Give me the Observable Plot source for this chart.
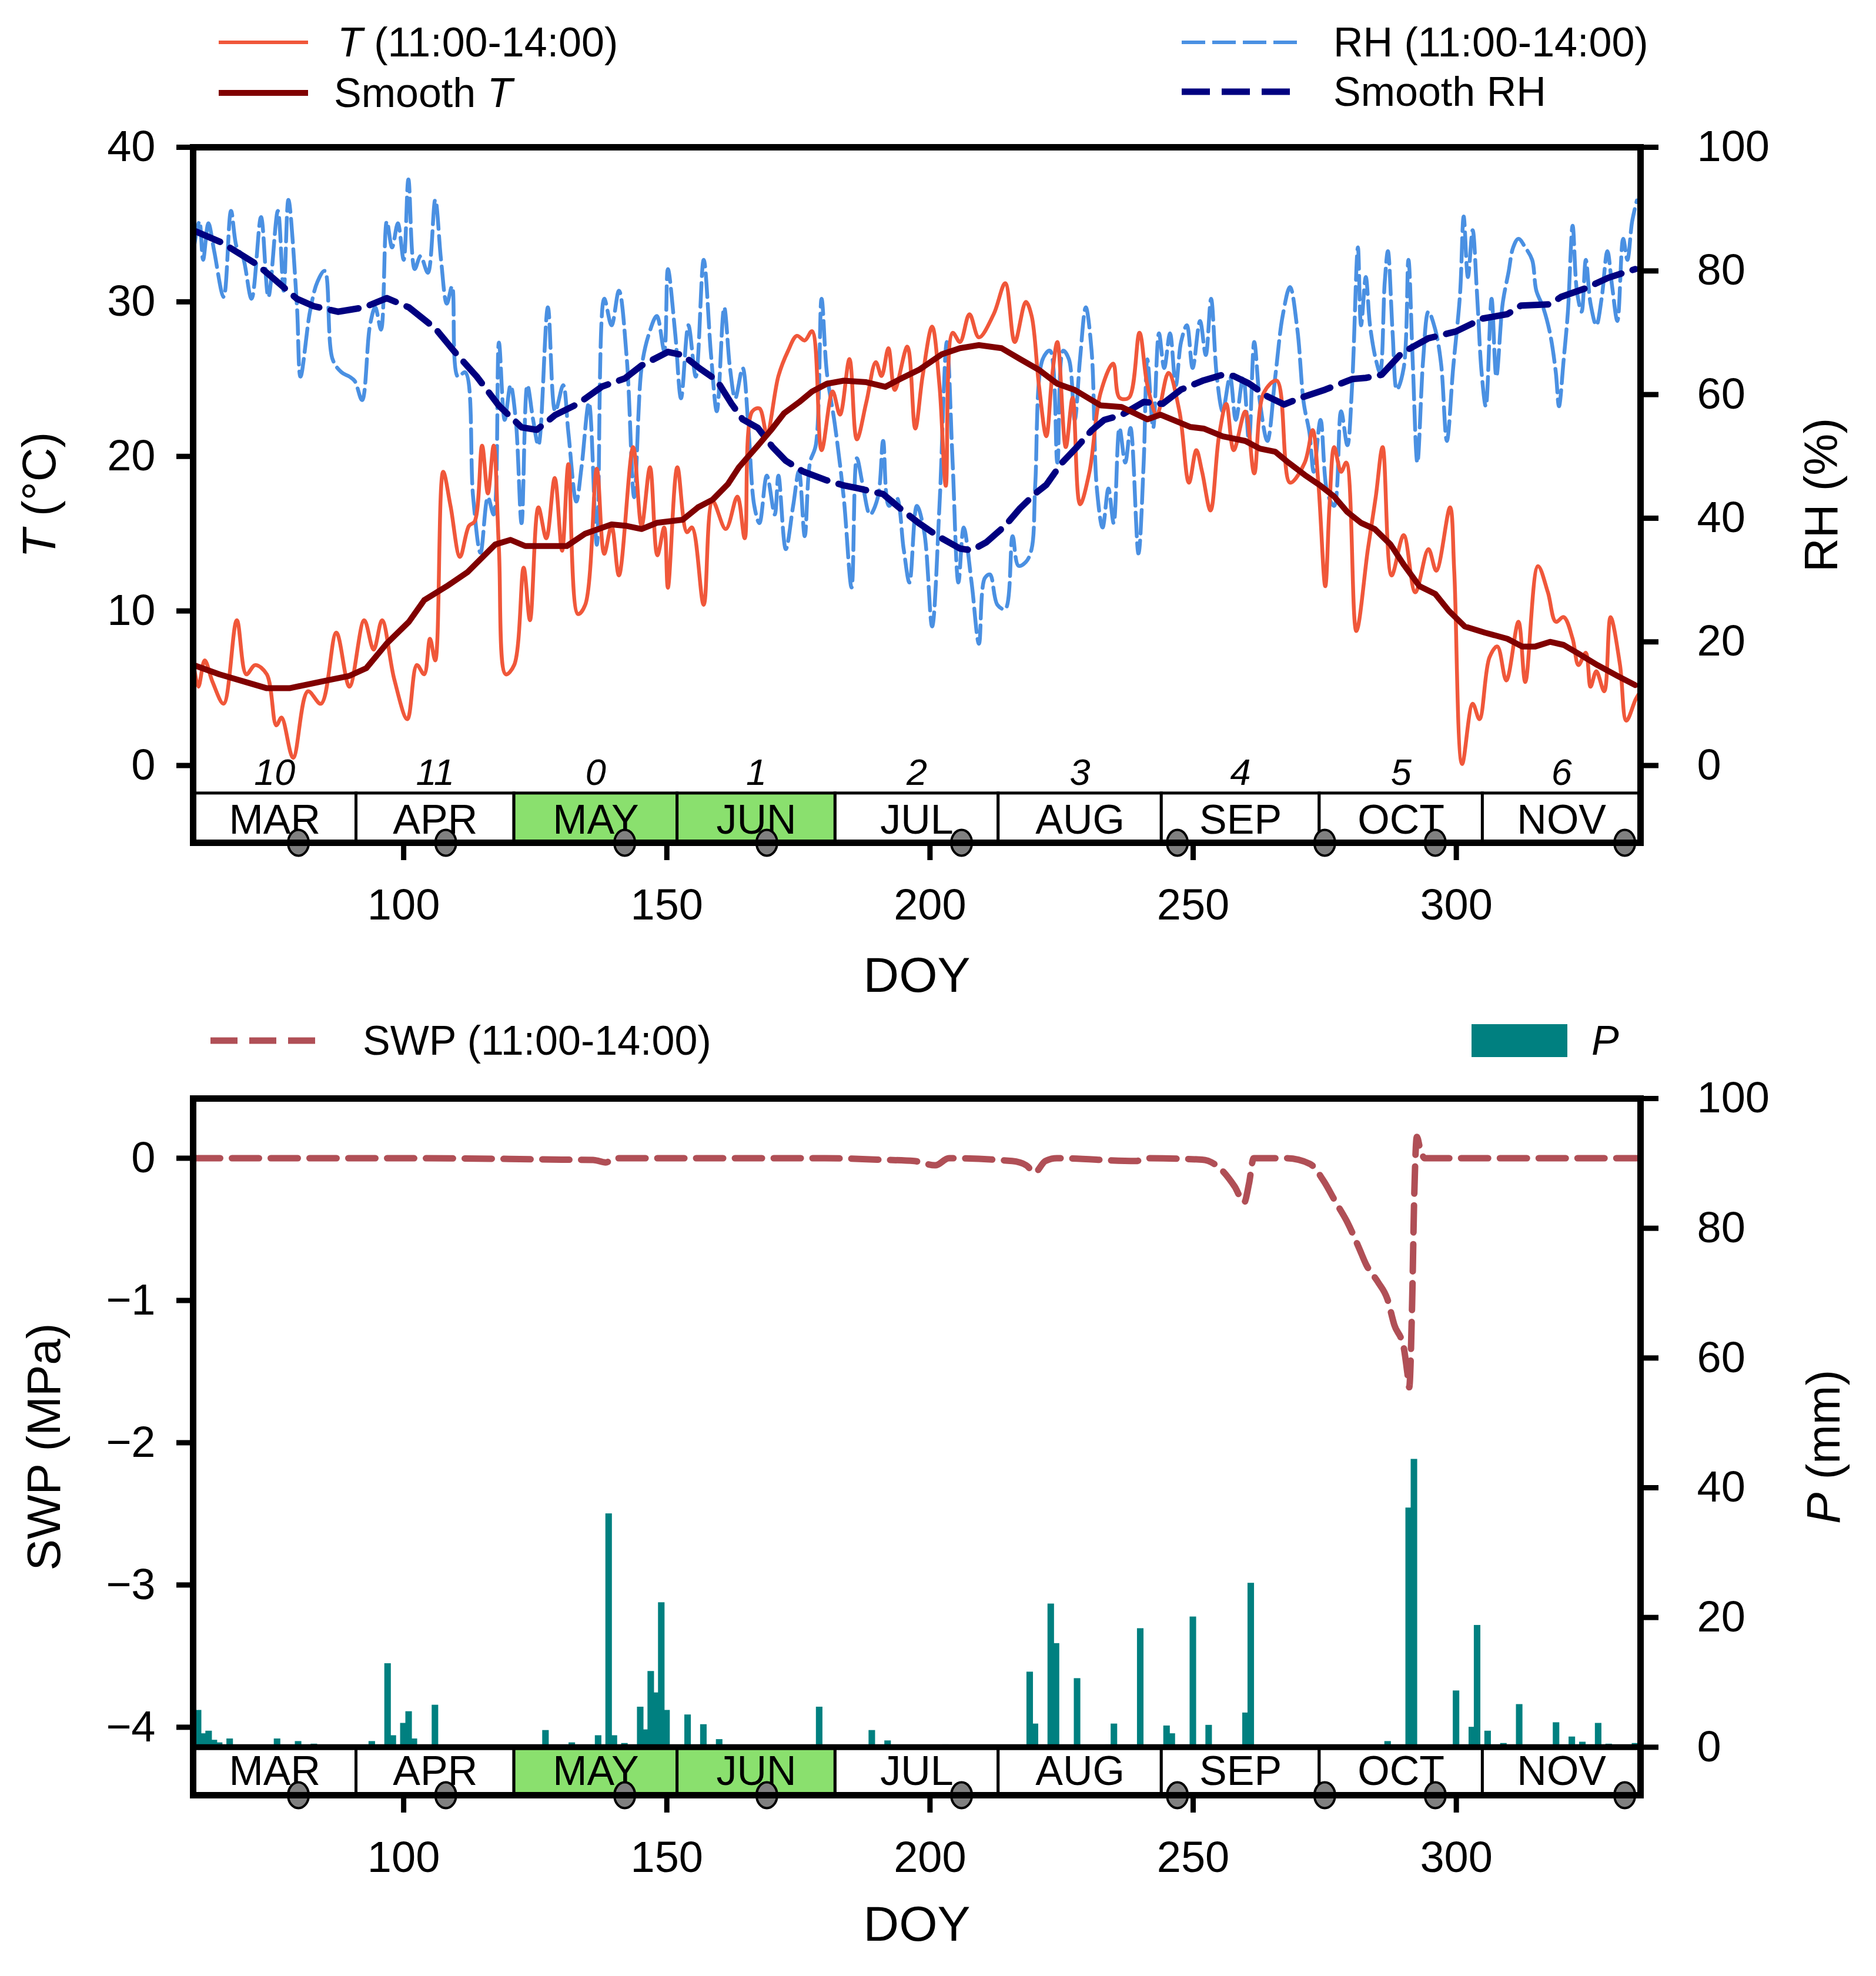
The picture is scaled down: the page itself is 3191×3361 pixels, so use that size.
<!DOCTYPE html>
<html>
<head>
<meta charset="utf-8">
<script src="https://cdn.jsdelivr.net/npm/d3@7"></script>
<script src="https://cdn.jsdelivr.net/npm/@observablehq/plot@0.6"></script>
<style>
  body { margin: 0; background: #fff; font-family: "Liberation Sans", Arial, Helvetica, sans-serif; }
  #page { position: relative; width: 3191px; height: 3361px; overflow: hidden; }
  .panel { position: absolute; left: 0; }
  .key { position: absolute; display: flex; align-items: center; transform: translateY(-50%);
         font-size: 70px; line-height: 1; white-space: nowrap; color: #000; }
  .key svg { display: block; }
</style>
</head>
<body>
<div id="page"></div>
<script>
"use strict";

// ---- data ----
const monthNames  = ["MAR", "APR", "MAY", "JUN", "JUL", "AUG", "SEP", "OCT", "NOV"];
const monthStart  = [60, 91, 121, 152, 182, 213, 244, 274, 305];
const monthEnd    = [91, 121, 152, 182, 213, 244, 274, 305, 335];
const monthCodes  = ["10", "11", "0", "1", "2", "3", "4", "5", "6"];
const greenMonths = ["MAY", "JUN"];
const markerDoy   = [80, 108, 142, 169, 206, 247, 275, 296, 332];

const doyTicks = [100, 150, 200, 250, 300];
const tTicks   = [0, 10, 20, 30, 40];
const rhTicks  = [0, 20, 40, 60, 80, 100];
const swpTicks = [0, -1, -2, -3, -4];
const pTicks   = [0, 20, 40, 60, 80, 100];

// T (11:00-14:00), [DOY, °C]
const tRaw = [
  [60,6.8],[61,5.1],[62.2,6.8],[63.7,5.4],[65.8,4.0],[68.3,9.4],[70.1,5.9],[71.8,6.5],[74,5.9],[75.8,2.6],
  [76.8,3.1],[79,0.5],[81.8,4.8],[84.3,4.0],[87.2,8.6],[89.7,5.1],[92.5,9.4],[94.3,7.5],[95.9,9.4],[98.2,5.6],
  [100.7,3.0],[102.5,6.5],[103.9,5.9],[105,8.2],[106,6.8],[107.5,19.0],[108.9,16.8],[110.7,13.5],[112.4,15.5],[113.5,15.8],
  [114.9,20.7],[116,17.6],[117.1,20.7],[118.1,14.0],[119.4,5.9],[121,6.5],[122.8,12.8],[124,9.4],[125.6,16.7],[127.1,14.7],
  [128.7,18.6],[130.1,13.9],[131.3,19.5],[133.1,9.8],[134.5,10.4],[136.7,19.2],[138.1,13.7],[139.5,15.5],[140.9,12.3],[143.6,20.6],
  [145.2,15.5],[146.8,19.3],[148.2,13.6],[149.5,15.4],[150.2,11.5],[152,19.3],[153.8,15.1],[154.8,15.4],[157,10.4],[158.7,17.1],
  [161.2,15.3],[163.4,17.4],[164.8,14.7],[166.2,22.9],[167.6,23.1],[169,21.5],[171.2,25.2],[173,26.8],[174.7,27.8],[176.2,27.5],
  [177.6,28.1],[179.4,20.4],[181.5,24.2],[182.9,22.7],[184.7,26.3],[186.1,21.1],[187.9,23.5],[189.7,26.1],[190.8,25.2],[192.1,27.0],
  [193.3,24.3],[195.7,27.1],[197.2,21.8],[198.6,25.2],[200.4,28.4],[201.8,24.6],[203,18.1],[204.3,28.0],[205.7,27.4],[207.5,29.2],
  [209.3,27.7],[212.1,29.2],[214.3,31.2],[216.1,27.4],[218.2,30.0],[219.3,29.1],[220.7,24.6],[222.1,21.3],[223.2,25.2],[224.2,27.4],
  [225.8,20.6],[227.1,23.8],[228.5,16.9],[230.3,19.0],[232.4,24.1],[234.8,26.0],[236,23.8],[237.8,23.8],[239.8,28.0],[241.3,24.6],
  [243.1,22.7],[245.3,25.4],[247.4,22.9],[249.2,18.3],[250.6,20.4],[251.7,19.0],[253.3,16.5],[254.9,21.3],[256.3,23.4],[257.7,20.4],
  [259.9,22.9],[261.6,18.9],[263.4,24.1],[265.9,24.9],[268.4,18.3],[271.2,19.6],[272.7,21.7],[273.8,18.2],[275.1,11.6],[275.9,16.8],
  [276.8,20.6],[278.1,19.0],[279.1,19.6],[281,8.7],[283.2,14.0],[284.7,17.4],[286,20.6],[287.7,12.3],[290,14.9],[292.2,11.2],
  [294.7,14.0],[296.2,12.6],[298.8,16.7],[299.6,12.6],[301.1,0.1],[303.1,4.0],[304.4,3.0],[306.3,7.0],[307.8,7.7],[309.5,5.5],
  [311.8,9.3],[313.1,5.4],[315.5,12.9],[317.4,11.2],[318.9,9.3],[320.4,9.6],[322.1,8.2],[323.2,6.5],[324.6,7.3],[325.5,5.1],
  [326.6,6.1],[328.1,4.8],[329.3,9.6],[331.1,6.5],[332.3,2.9],[334.1,4.3],[335,4.8]
];

// Smooth T, [DOY, °C]
const tSmooth = [
  [60.1,6.5],[65,5.9],[70,5.4],[74,5.0],[78.3,5.0],[85.4,5.5],[89.7,5.8],[92.9,6.3],[96.8,7.9],[101,9.3],
  [103.9,10.7],[108.2,11.6],[112.1,12.5],[117.4,14.3],[120.3,14.6],[123.1,14.2],[131,14.2],[134.5,15.0],[139.5,15.6],[142.4,15.5],
  [145.2,15.3],[148.1,15.7],[153,15.9],[155.9,16.7],[158.7,17.2],[161.6,18.2],[163.7,19.3],[167.3,20.7],[169.8,21.7],[172.3,22.8],
  [175.1,23.5],[177.6,24.2],[180.4,24.7],[183.6,24.9],[187.9,24.8],[191.5,24.5],[194.3,25.0],[197.9,25.6],[202.2,26.6],[205.7,27.0],
  [209.3,27.2],[213.6,27.0],[217.1,26.3],[220.7,25.6],[224.2,24.7],[227.5,24.3],[232.4,23.3],[236.4,23.2],[241.3,22.4],[243.8,22.7],
  [249.5,21.9],[252,21.8],[255.6,21.3],[259.9,21.0],[262.7,20.5],[265.6,20.3],[268.1,19.6],[271.2,18.8],[274.2,18.1],[276.8,17.4],
  [279.3,16.4],[281.9,15.7],[284.5,15.3],[287.5,14.3],[290,13.0],[293,11.6],[296,11.1],[298.6,10.0],[301.6,9.0],[305.4,8.6],
  [309.7,8.2],[312.5,7.7],[315,7.7],[317.8,8.0],[320.4,7.8],[323.4,7.2],[326.8,6.5],[330.6,5.8],[334,5.2]
];

// RH (11:00-14:00), [DOY, %]
const rhRaw = [
  [60.2,84],[61.2,88],[61.9,81.8],[62.9,87.7],[64,83.2],[65.8,75.8],[67.2,89.7],[68.3,83.8],[69.4,82.4],[71.1,75.5],
  [72.9,88.7],[74.3,75.8],[76.1,89.7],[77.2,76.8],[78.1,91.5],[79.7,74.7],[80.4,62.9],[82.2,73.4],[83.6,78.2],[85,80.0],
  [86.5,65.7],[88.2,63.6],[89.7,62.9],[90.7,62.2],[92.1,59.1],[93.6,71.2],[94.6,74.1],[95.7,70.5],[96.8,88],[97.8,83.8],
  [98.9,87.7],[100,81.8],[100.9,94.8],[102.1,80.3],[103.2,82.4],[104.6,79.7],[106,91.5],[107.1,81.8],[108.2,74.7],[109.2,77.5],
  [110.3,62.9],[111.7,63.6],[113.2,43.4],[114.6,34.4],[116,43.4],[117.1,40.6],[118.1,68.4],[119.2,55.9],[120.3,61.5],[121.3,55.9],
  [122.4,39.2],[123.5,61.5],[124.6,55.9],[125.6,51.8],[127.4,74.1],[128.8,57.3],[130.3,61.5],[131.3,53.8],[132.8,42.7],[133.8,48.3],
  [135.2,58.7],[136.7,35.7],[138.1,75.5],[139.5,71.2],[140.9,76.8],[142.4,65.7],[143.8,43.4],[145.2,64.3],[146.6,69.8],[148.1,72.7],
  [149.5,67.1],[150.2,80.3],[151.6,69.8],[152.7,59.4],[154.1,71.2],[155.5,62.9],[157,81.8],[158.4,66.4],[159.5,57.3],[160.9,74.1],
  [162,64.3],[163,59.4],[164.4,64.3],[165.5,54.6],[166.6,42.1],[167.6,39.2],[169,46.9],[170.5,40.6],[171.2,46.9],[172.6,35.0],
  [174,42.0],[175.1,47.6],[176.2,37.1],[177.2,49.0],[178.3,51.8],[179.4,75.5],[180.4,63.6],[181.9,55.3],[183.6,43.4],[185.1,28.8],
  [186.1,49.7],[187.2,45.5],[188.6,40.6],[190.1,43.4],[191.1,52.5],[192.2,42.0],[193.6,43.4],[195,35.0],[196.1,29.6],[197.5,42.0],
  [198.9,37.8],[200.4,22.5],[201.8,42.0],[203.2,68.5],[204.3,49.0],[205.4,29.6],[206.4,38.5],[207.9,29.6],[209.3,19.7],[210.4,30.3],
  [211.4,30.9],[212.8,26.0],[214.3,25.3],[215.7,37.1],[216.8,32.3],[218.2,32.9],[219.3,35.0],[220,45.5],[221.4,65.7],[222.8,67.1],
  [224.2,49.0],[225.3,67.1],[226.4,65.7],[227.5,55.9],[228.5,65.7],[229.6,74.1],[230.7,67.1],[231.7,44.8],[232.8,38.5],[233.9,44.8],
  [234.9,39.2],[236,54.6],[237.1,49.0],[238.1,54.6],[239.6,34.3],[240.6,49.0],[241.3,65.7],[242.4,54.6],[243.5,69.9],[244.5,64.3],
  [245.6,69.9],[246.7,61.5],[247.7,68.5],[248.8,71.2],[249.9,64.3],[251.3,71.9],[252.4,66.4],[253.4,75.5],[254.5,62.9],[255.6,57.3],
  [257,62.9],[258.1,55.9],[259.5,62.9],[260.6,52.5],[261.6,68.5],[262.7,58.7],[264.1,52.5],[265.6,62.9],[267,72.7],[268.4,77.4],
  [269.8,70.5],[271,58.7],[272.1,53.8],[272.9,47.5],[274.2,55.9],[275.5,44.1],[276.8,42.0],[278.1,57.3],[279.3,51.8],[280.2,61.5],
  [281.3,83.8],[281.9,71.2],[282.8,79.0],[283.6,71.2],[284.7,65.7],[285.5,63.6],[286.4,78.2],[287,83.2],[287.9,69.9],[288.7,60.8],
  [290,64.3],[290.9,81.8],[291.7,65.7],[292.6,49.0],[293.7,65.7],[294.7,73.4],[296,70.5],[297.1,65.0],[298.2,52.5],[299.4,64.3],
  [300.7,76.2],[301.4,88.8],[302.2,79.0],[303.1,86.6],[303.9,76.8],[304.8,63.6],[305.6,58.1],[306.7,75.5],[307.6,62.9],[308.8,74.7],
  [309.9,79.7],[310.8,83.8],[311.8,85.2],[313.1,83.8],[314.4,81.8],[315.2,76.8],[316.5,74.1],[317.8,69.9],[318.9,63.6],[319.5,58.1],
  [320.4,65.7],[321.2,73.4],[322.1,87.3],[322.9,76.8],[323.8,73.4],[324.6,81.8],[325.5,74.7],[326.6,71.2],[327.6,75.5],[328.7,83.2],
  [329.6,77.5],[330.6,71.9],[331.7,85.2],[332.5,81.8],[333.4,88.0],[334.3,91.4]
];

// Smooth RH, [DOY, %]
const rhSmooth = [
  [60.2,86.5],[65.4,84.6],[72.2,81.0],[75.1,78.9],[79.7,75.5],[82.9,74.3],[87.5,73.4],[92.5,74.1],[96.8,75.6],[101,74.1],
  [106,70.7],[109.6,67.0],[113.9,62.9],[118.1,58.2],[122.4,54.7],[125.3,54.3],[128.8,56.7],[133.1,58.5],[137.7,61.3],[142,62.6],
  [145.2,64.7],[150.2,66.9],[153,66.4],[156.3,64.2],[159.5,62.3],[162.3,58.5],[164.4,56.0],[167.3,54.6],[170.1,51.5],[172.6,49.3],
  [175.8,47.6],[180.1,46.2],[183.6,45.3],[186.5,44.8],[191.1,43.9],[194.3,41.6],[197.9,39.2],[201.5,37.1],[205.7,35.1],[207.9,34.8],
  [210.7,36.1],[214.3,38.8],[217.1,41.6],[220,44.0],[222.1,45.4],[225,48.9],[227.8,51.4],[230.7,54.2],[233.1,55.9],[236.4,56.7],
  [240.6,58.8],[244.2,58.5],[247.7,60.8],[252,62.3],[255.6,63.2],[257.7,63.0],[260.6,61.8],[264.1,59.7],[267.3,58.4],[270.5,59.5],
  [275.1,60.8],[280.2,62.5],[282.8,62.7],[285.8,63.2],[289.6,66.7],[294.7,69.1],[299.9,70.2],[305,72.3],[309.7,73.0],[312.3,74.4],
  [317.8,74.6],[319.9,75.8],[324.6,77.2],[328.9,78.9],[334,80.3]
];

// SWP (11:00-14:00), [DOY, MPa]
const swp = [
  [60,0],[100,0],[120,-0.005],[130,-0.01],[136,-0.012],[138.4,-0.03],[140,0],[180,0],[190,-0.01],[197,-0.02],
  [201,-0.05],[203.6,0],[215.6,-0.02],[218.3,-0.05],[219.9,-0.1],[221.9,-0.02],[224.1,0],[239.2,-0.02],[240.1,-0.01],[241,0],
  [251.7,-0.01],[254.4,-0.05],[257.9,-0.2],[259.7,-0.31],[260.6,-0.18],[261.5,0],[267.7,0],[272.2,-0.04],[274.8,-0.16],[277.1,-0.31],
  [279.3,-0.45],[281.5,-0.63],[282.9,-0.75],[285.1,-0.87],[286.9,-0.99],[288.2,-1.17],[290,-1.33],[290.7,-1.51],[291.05,-1.61],[291.6,-1.02],
  [292,-0.27],[292.5,0.15],[293.1,0.07],[294,0],[335,0]
];

// P, [DOY, mm]
const precip = [
  [61,5.7],[62,2.1],[63,2.5],[64,1.1],[65,0.7],[67,1.3],[68,0.2],[70,0.2],[72,0.1],[74,0.1],
  [76,1.3],[77,0.2],[80,0.9],[83,0.5],[84,0.2],[94,0.9],[95,0.1],[97,12.9],[98,1.8],[100,3.7],
  [101,5.5],[102,1.3],[103,0.2],[106,6.5],[127,2.6],[128,0.1],[132,0.7],[137,1.8],[139,36.0],[140,1.8],
  [142,0.6],[143,0.2],[145,6.2],[146,2.7],[147,11.7],[148,8.4],[149,22.3],[150,5.7],[151,0.1],[154,5.0],
  [155,0.1],[157,3.5],[160,1.2],[163,0.2],[178,0.4],[179,6.2],[189,2.6],[192,1.0],[203,0.4],[219,11.6],
  [220,3.6],[223,22.1],[224,16.0],[228,10.6],[229,0.3],[234,0.4],[235,3.6],[240,18.3],[245,3.3],[246,2.1],
  [250,20.1],[251,0.1],[253,3.4],[260,5.3],[261,25.3],[263,0.1],[271,0.1],[282,0.1],[287,0.9],[291,36.9],
  [292,44.4],[299,0.4],[300,8.7],[303,3.1],[304,18.8],[305,0.1],[306,2.5],[309,0.6],[312,6.6],[316,0.1],
  [319,3.8],[320,0.1],[322,1.6],[324,0.8],[327,3.7],[329,0.5],[330,0.2],[334,0.6]
];

// ---- styling ----
const C = {
  tRaw: "#f0573a", tSmooth: "#800000", rhRaw: "#4a90e2", rhSmooth: "#000080",
  swp: "#b04f56", p: "#008080", green: "#8ae06e", marker: "#808080"
};
const FONT = '"Liberation Sans", Arial, Helvetica, sans-serif';
const W = 3191;
const RH2T = 0.4;                         // RH 100 % sits at T 40 °C
const pOfSwp = s => 90.8 + 21.93 * s;     // SWP axis mapped onto P axis
const swpOfP = p => (p - 90.8) / 21.93;
const minus = v => (v < 0 ? "\u2212" + Math.abs(v) : String(v));

// upright oval marker, a little taller than wide
const oval = {
  draw(ctx, size) {
    const ry = Math.sqrt(size / Math.PI), rx = ry * 0.8, k = 0.5523;
    ctx.moveTo(rx, 0);
    ctx.bezierCurveTo(rx, ry * k, rx * k, ry, 0, ry);
    ctx.bezierCurveTo(-rx * k, ry, -rx, ry * k, -rx, 0);
    ctx.bezierCurveTo(-rx, -ry * k, -rx * k, -ry, 0, -ry);
    ctx.bezierCurveTo(rx * k, -ry, rx, -ry * k, rx, 0);
    ctx.closePath();
  }
};

const months = monthNames.map((name, i) => ({
  name, start: monthStart[i], end: monthEnd[i], mid: (monthStart[i] + monthEnd[i]) / 2,
  code: monthCodes[i], green: greenMonths.includes(name)
}));

function monthBand(y1, y2, labelY, withCodes) {
  const marks = [
    Plot.rect(months.filter(m => !m.green), {x1: "start", x2: "end", y1, y2, fill: "white", stroke: "black", strokeWidth: 5}),
    Plot.rect(months.filter(m => m.green), {x1: "start", x2: "end", y1, y2, fill: C.green, stroke: "black", strokeWidth: 5}),
    Plot.text(months, {x: "mid", y: labelY, text: "name", fontSize: 70, lineAnchor: "middle"})
  ];
  if (withCodes) {
    marks.push(Plot.text(months, {x: "mid", y: y2 + 0.55, text: "code", fontSize: 63, fontStyle: "italic", lineAnchor: "bottom"}));
  }
  marks.push(Plot.dot(markerDoy, {x: d => d, y: y1, r: 22, symbol: oval, fill: C.marker, stroke: "black", strokeWidth: 4}));
  return marks;
}

function axisTitle(text, side, dx) {
  return Plot.text([text], {frameAnchor: side, dx, rotate: -90, fontSize: 80, textAnchor: "middle", lineAnchor: "middle"});
}

function italicize(svg, full, head) {
  d3.select(svg).selectAll("text").each(function () {
    if (this.textContent === full) {
      const t = d3.select(this);
      t.text(null);
      t.append("tspan").attr("font-style", "italic").text(head);
      t.append("tspan").text(full.slice(head.length));
    }
  });
}

const common = {
  width: W, marginLeft: 328, marginRight: 401,
  style: {fontFamily: FONT, fontSize: "74px", color: "black", background: "white", overflow: "visible"}
};
const xAxis = Plot.axisX(doyTicks, {anchor: "bottom", tickSize: 30, tickPadding: 48, strokeWidth: 9, label: null});

// ---- top panel: T and RH ----
const topChart = Plot.plot({
  ...common,
  height: 1520, marginTop: 50, marginBottom: 287,
  x: {domain: [60, 335], axis: null},
  y: {domain: [-5, 40], axis: null},
  marks: [
    Plot.line(rhRaw, {x: d => d[0], y: d => d[1] * RH2T, stroke: C.rhRaw, strokeWidth: 6.5, strokeDasharray: "40,12", curve: "catmull-rom"}),
    Plot.line(tRaw, {x: d => d[0], y: d => d[1], stroke: C.tRaw, strokeWidth: 6.5, curve: "catmull-rom"}),
    Plot.line(rhSmooth, {x: d => d[0], y: d => d[1] * RH2T, stroke: C.rhSmooth, strokeWidth: 11, strokeDasharray: "48,20"}),
    Plot.line(tSmooth, {x: d => d[0], y: d => d[1], stroke: C.tSmooth, strokeWidth: 10}),
    ...monthBand(-5, -1.8, -3.55, true),
    Plot.frame({stroke: "black", strokeWidth: 11}),
    Plot.axisY(tTicks, {anchor: "left", tickSize: 28, tickPadding: 36, strokeWidth: 9, label: null}),
    Plot.axisY(rhTicks.map(v => v * RH2T), {anchor: "right", tickSize: 30, tickPadding: 66, strokeWidth: 9,
      tickFormat: d => String(Math.round(d / RH2T)), label: null}),
    xAxis,
    axisTitle("T (\u00b0C)", "left", -260),
    axisTitle("RH (%)", "right", 309),
    Plot.text(["DOY"], {frameAnchor: "bottom", dy: 227, fontSize: 84, lineAnchor: "middle"})
  ]
});
italicize(topChart, "T (\u00b0C)", "T");

// ---- bottom panel: SWP and P ----
const bottomChart = Plot.plot({
  ...common,
  height: 1540, marginTop: 48, marginBottom: 307,
  x: {domain: [60, 335], axis: null},
  y: {domain: [-7.4, 100], axis: null},
  marks: [
    Plot.rect(precip, {x1: d => d[0] - 0.62, x2: d => d[0] + 0.62, y1: 0, y2: d => d[1], fill: C.p}),
    Plot.line(swp, {x: d => d[0], y: d => pOfSwp(d[1]), stroke: C.swp, strokeWidth: 11, strokeDasharray: "46,20", curve: "monotone-x"}),
    ...monthBand(-7.4, 0, -3.8, false),
    Plot.ruleY([0], {stroke: "black", strokeWidth: 10}),
    Plot.frame({stroke: "black", strokeWidth: 11}),
    Plot.axisY(swpTicks.map(pOfSwp), {anchor: "left", tickSize: 28, tickPadding: 36, strokeWidth: 9,
      tickFormat: d => minus(Math.round(swpOfP(d))), label: null}),
    Plot.axisY(pTicks, {anchor: "right", tickSize: 30, tickPadding: 66, strokeWidth: 9, label: null}),
    xAxis,
    axisTitle("SWP (MPa)", "left", -252),
    axisTitle("P (mm)", "right", 313),
    Plot.text(["DOY"], {frameAnchor: "bottom", dy: 221, fontSize: 84, lineAnchor: "middle"})
  ]
});
italicize(bottomChart, "P (mm)", "P");

// ---- page assembly ----
const page = document.getElementById("page");

function place(node, topPx) {
  const div = document.createElement("div");
  div.className = "panel";
  div.style.top = topPx + "px";
  div.appendChild(node);
  page.appendChild(div);
}
place(topChart, 200);
place(bottomChart, 1820);

function lineSwatch(w, color, sw, dash) {
  return `<svg width="${w}" height="24"><line x1="0" y1="12" x2="${w}" y2="12" stroke="${color}" stroke-width="${sw}"` +
    (dash ? ` stroke-dasharray="${dash}"` : "") + `/></svg>`;
}
function addKey(left, topPx, swatch, label, gap) {
  const div = document.createElement("div");
  div.className = "key";
  div.style.left = left + "px";
  div.style.top = topPx + "px";
  div.innerHTML = swatch + `<span style="margin-left:${gap}px">${label}</span>`;
  page.appendChild(div);
}

addKey(372, 72, lineSwatch(152, C.tRaw, 6), "<i>T</i> (11:00-14:00)", 50);
addKey(372, 158, lineSwatch(152, C.tSmooth, 10), "Smooth <i>T</i>", 44);
addKey(2010, 72, lineSwatch(204, C.rhRaw, 6, "40,12"), "RH (11:00-14:00)", 54);
addKey(2010, 156, lineSwatch(190, C.rhSmooth, 11, "48,20"), "Smooth RH", 68);
addKey(358, 1770, lineSwatch(187, C.swp, 11, "46,20"), "SWP (11:00-14:00)", 72);
addKey(2503, 1770, `<svg width="163" height="56"><rect width="163" height="56" fill="${C.p}"/></svg>`, "<i>P</i>", 41);
</script>
</body>
</html>
